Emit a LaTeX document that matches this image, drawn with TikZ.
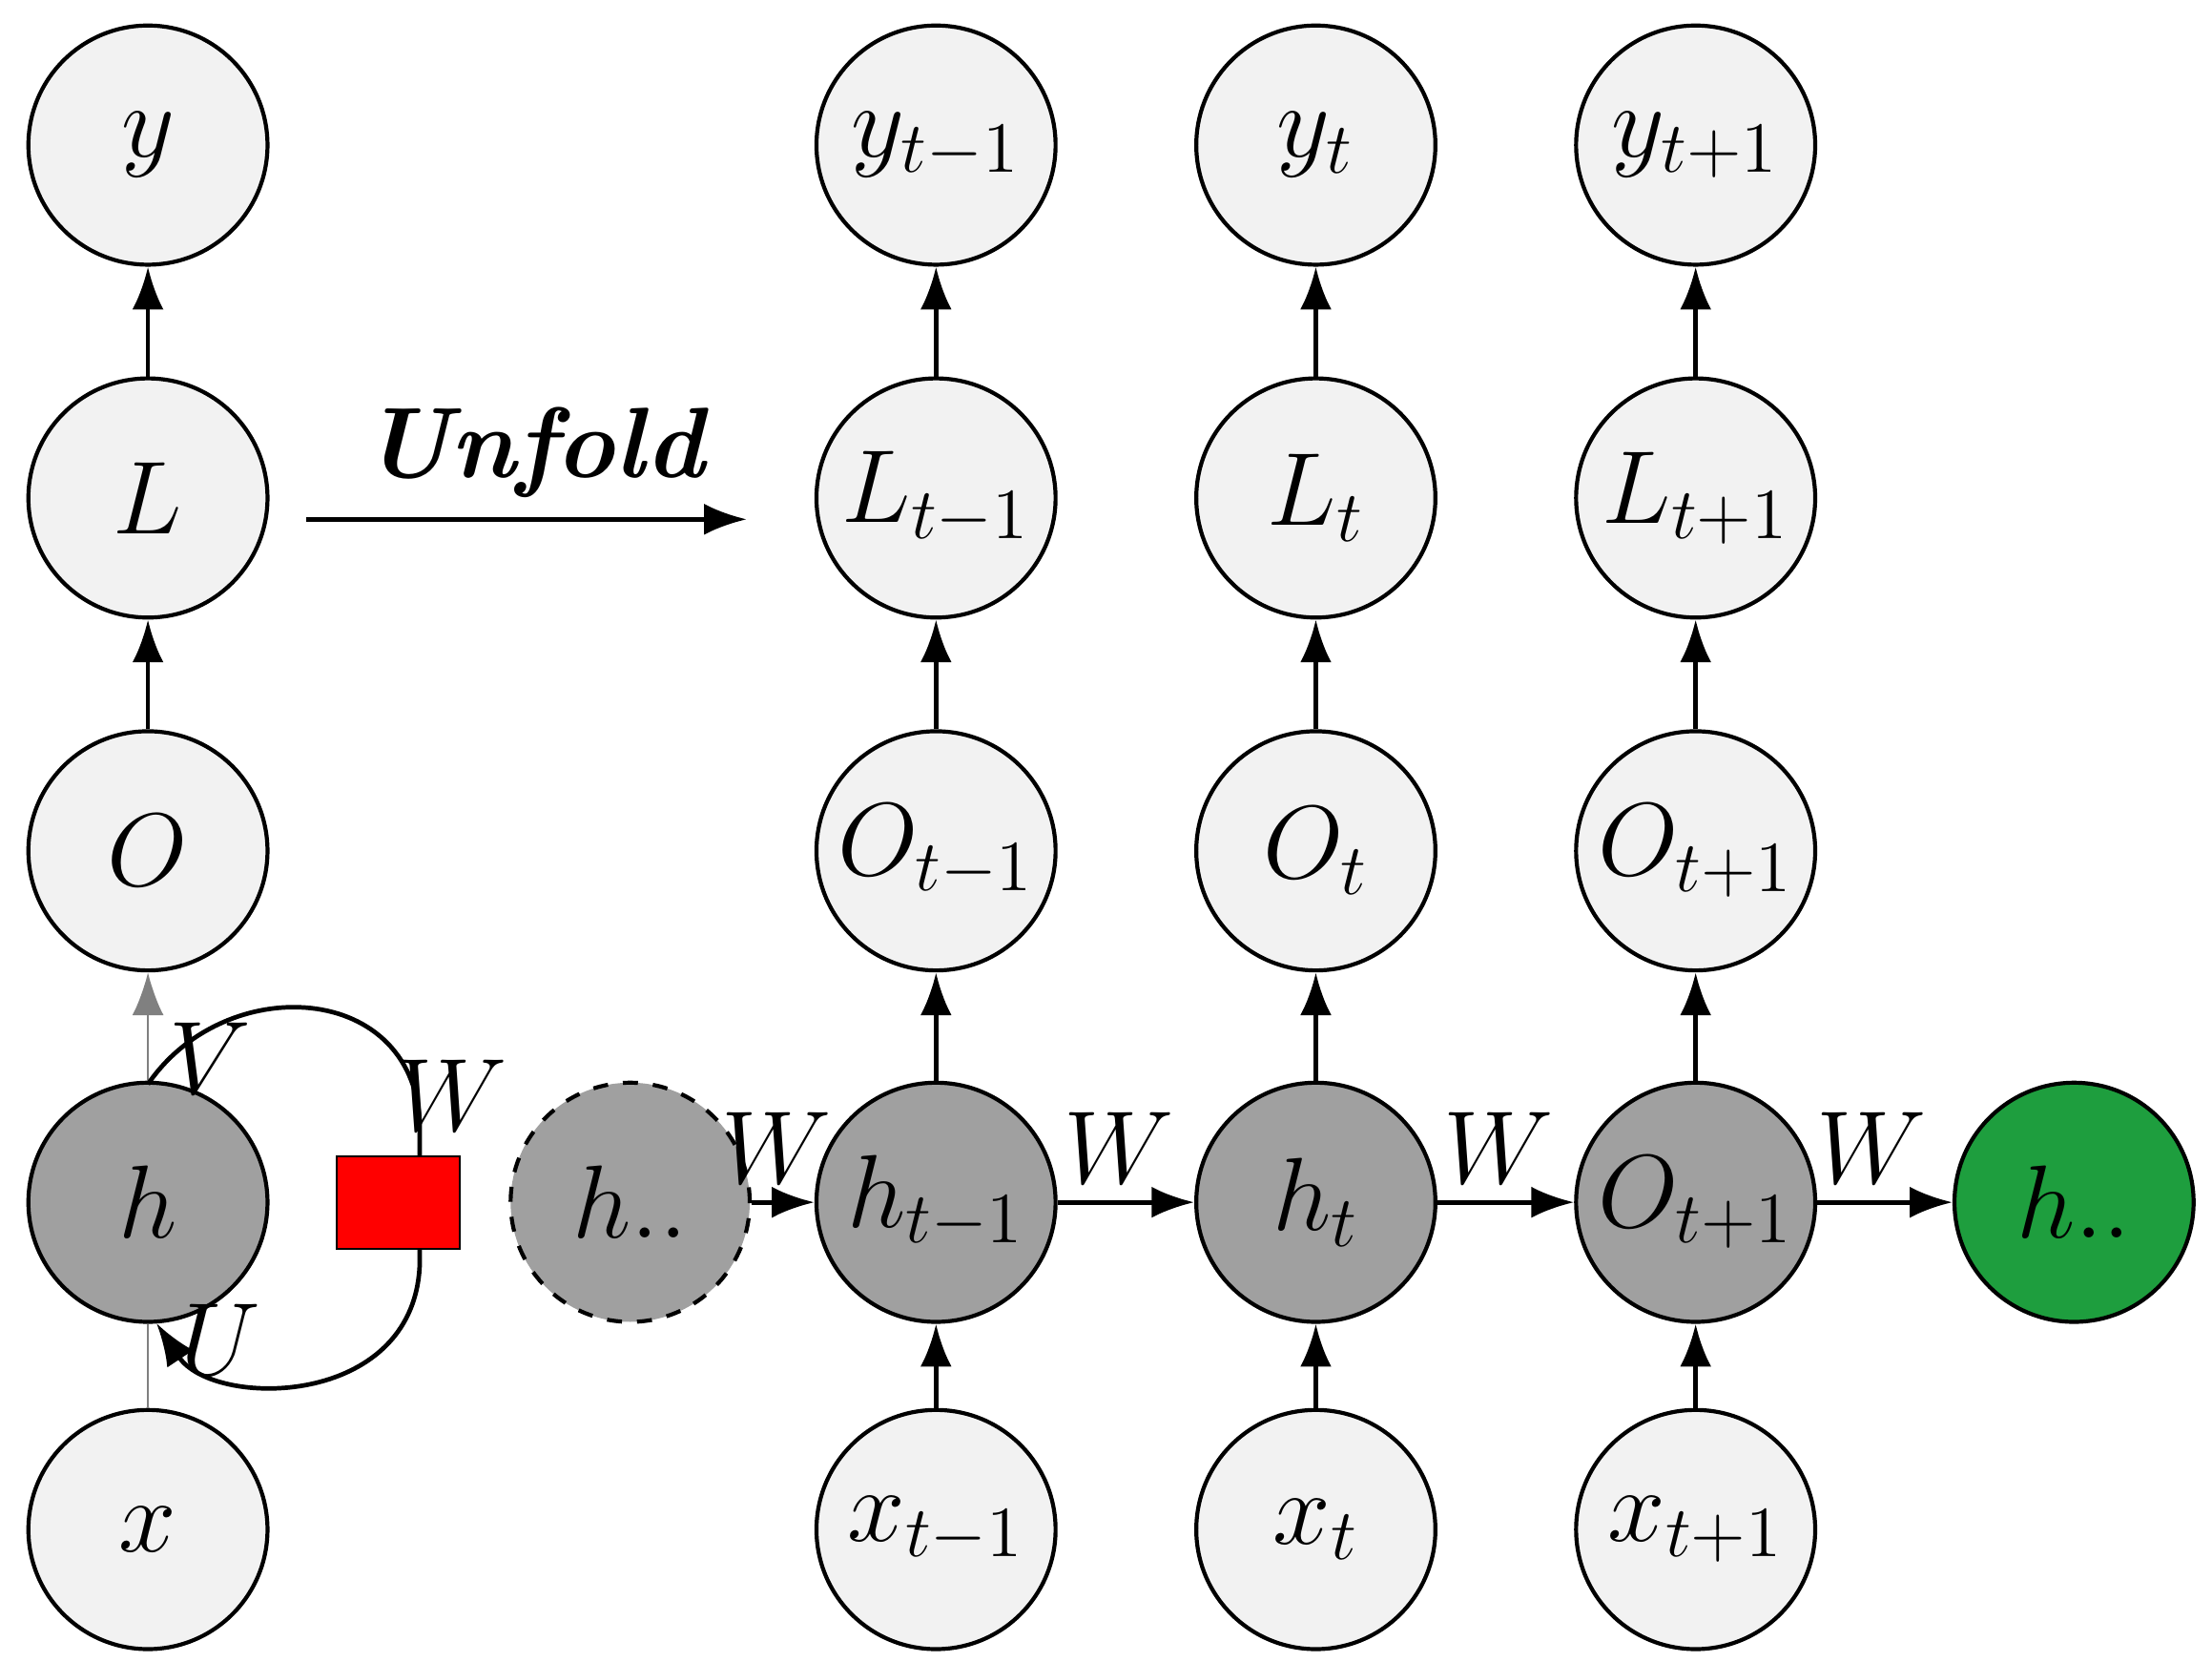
\documentclass[tikz,border=0pt]{standalone}
\usetikzlibrary{arrows.meta}
\begin{document}
\begin{tikzpicture}[x=0.01cm,y=-0.01cm,
  n/.style={circle,draw=black,line width=0.8pt,minimum size=1.68cm,inner sep=0pt,fill=lgray,font=\fontsize{20}{24}\selectfont},
  hd/.style={n,fill=dgray},
  a/.style={-{Latex[length=3mm,width=2.2mm]},line width=0.9pt},
  lab/.style={font=\fontsize{20}{24}\selectfont}]
\definecolor{lgray}{HTML}{F2F2F2}
\definecolor{dgray}{HTML}{A0A0A0}
\definecolor{gr}{HTML}{1E9E3E}
\useasboundingbox (0,0) rectangle (1555,1168);
% left column
\node[n] (y) at (104,102) {$y$};
\node[n] (L) at (104,350) {$L$};
\node[n] (O) at (104,598) {$O$};
\node[hd] (h) at (104,845) {$h$};
\node[n] (x) at (104,1075) {$x$};
\draw[a] (L) -- (y);
\draw[a] (O) -- (L);
\draw[a,draw=gray,line width=0.5pt] (h) -- (O);
\draw[draw=gray,line width=0.5pt] (x) -- (h);
% loop
\coordinate (ht) at (104,762);
\coordinate (hb) at (110,930);
\draw[a] (ht) .. controls (160,680) and (300,690) .. (295,800) -- (295,890) .. controls (290,990) and (150,990) .. (hb);
\node[draw=black,fill=red,minimum width=0.86cm,minimum height=0.65cm,inner sep=0pt] (box) at (280,845) {};
\node[lab] at (148,744) {$V$};
\node[lab] at (318,770) {$W$};
\node[lab] at (155,942) {$U$};
% unfold
\node[font=\fontsize{20}{24}\selectfont\bfseries\itshape] (uf) at (375,318) {Unfold};
\coordinate (u1) at (215,365);
\coordinate (u2) at (525,365);
\draw[a] (u1) -- (u2);
% unfolded columns
\foreach \c/\X/\s in {1/658/{t-1},2/925/{t},3/1192/{t+1}}{
  \node[n] (y\c) at (\X,102) {$y_{\s}$};
  \node[n] (L\c) at (\X,350) {$L_{\s}$};
  \node[n] (O\c) at (\X,598) {$O_{\s}$};
  \node[n] (x\c) at (\X,1075) {$x_{\s}$};
  \draw[a] (L\c) -- (y\c);
  \draw[a] (O\c) -- (L\c);
}
\node[hd] (h1) at (658,845) {$h_{t-1}$};
\node[hd] (h2) at (925,845) {$h_{t}$};
\node[hd] (h3) at (1192,845) {$O_{t+1}$};
\node[n,fill=dgray,dashed] (h0) at (443,845) {$h..$};
\node[n,fill=gr] (h4) at (1458,845) {$h..$};
\foreach \c in {1,2,3}{
  \draw[a] (h\c) -- (O\c);
  \draw[a] (x\c) -- (h\c);
}
\draw[a] (h0) -- node[lab,above,pos=0.4]{$W$} (h1);
\draw[a] (h1) -- node[lab,above,pos=0.45]{$W$} (h2);
\draw[a] (h2) -- node[lab,above,pos=0.45]{$W$} (h3);
\draw[a] (h3) -- node[lab,above,pos=0.4]{$W$} (h4);
\end{tikzpicture}
\end{document}
